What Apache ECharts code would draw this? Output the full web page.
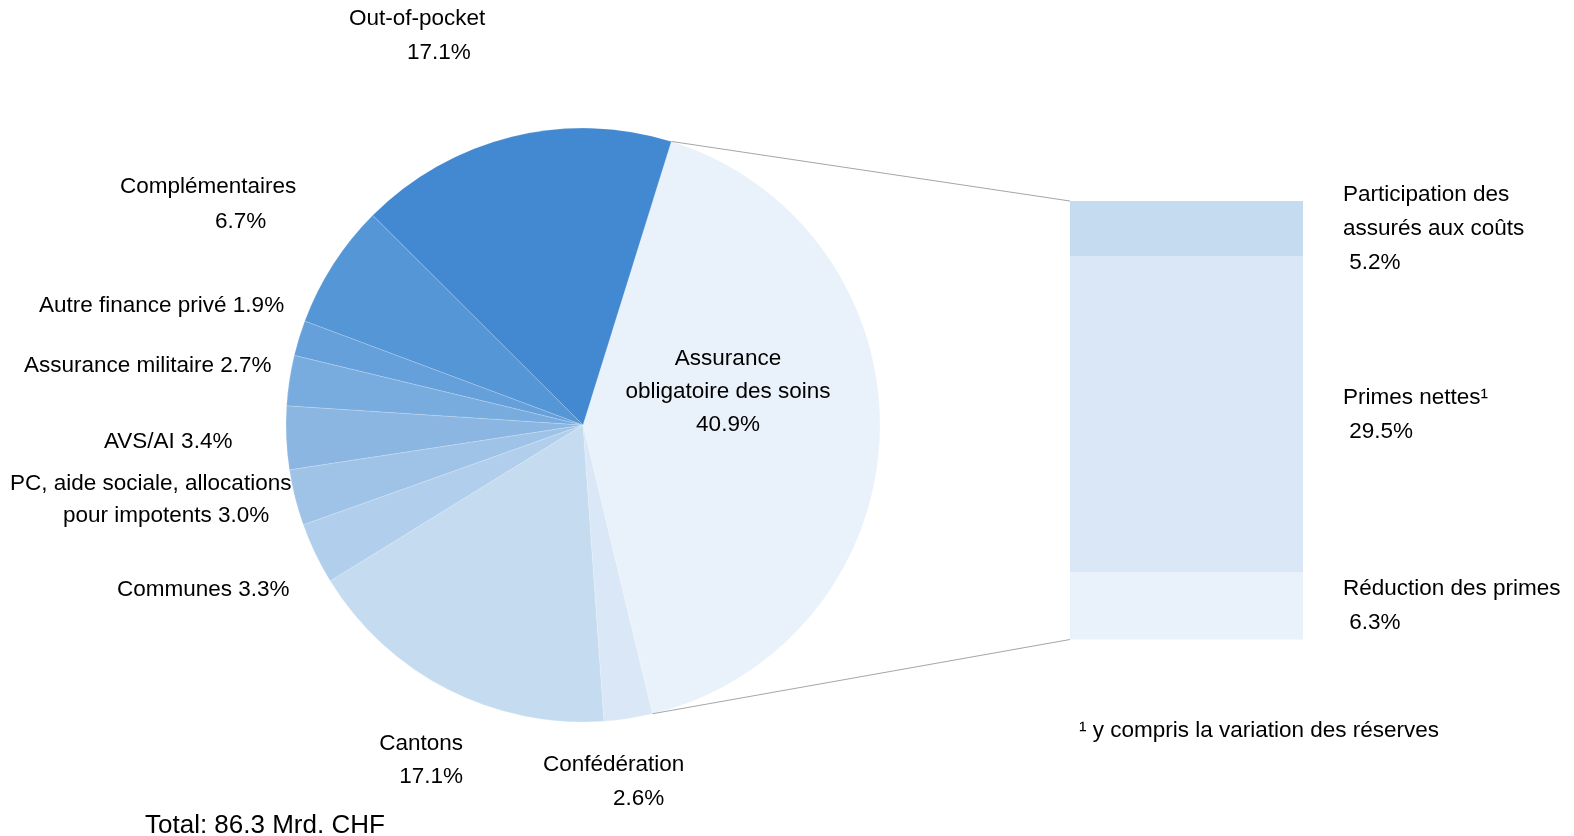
<!DOCTYPE html>
<html><head><meta charset="utf-8">
<script src="https://cdn.jsdelivr.net/npm/echarts@6/dist/echarts.min.js"></script>
<style>html,body{margin:0;padding:0;background:#fff}#c{width:1574px;height:836px}</style>
</head><body><div id="c"></div>
<script>
// ---- data ----
const pieNames = ['Assurance\nobligatoire des soins', 'Confédération', 'Cantons', 'Communes',
  'PC, aide sociale, allocations\npour impotents', 'AVS/AI', 'Assurance militaire',
  'Autre finance privé', 'Complémentaires', 'Out-of-pocket'];
const pieValues = [40.9, 2.6, 17.1, 3.3, 3.0, 3.4, 2.7, 1.9, 6.7, 17.1];
const barNames = ['Réduction des primes', 'Primes nettes¹', 'Participation des\nassurés aux coûts'];
const barValues = [6.3, 29.5, 5.2];
const totalText = 'Total: 86.3 Mrd. CHF';
const footnote = '¹ y compris la variation des réserves';

// ---- styles ----
const FONT = "'Liberation Sans', Arial, sans-serif";
const FS = 22.5;
const pieColors = ['#e9f1fa', '#dae7f6', '#c5dcf0', '#b1cfec', '#9fc3e7', '#8bb6e2', '#78acdf', '#65a0db', '#5596d6', '#4389d1'];
const barColors = ['#e9f1fa', '#dae7f6', '#c5dcf0'];
const pieLabelCfg = [
  {x: 728, y: 392, align: 'center', indent: 0, sep: '\n', lh: 33},
  {x: 543, y: 782, align: 'left', indent: 70, sep: '\n', lh: 34},
  {x: 463, y: 760, align: 'right', indent: 0, sep: '\n', lh: 33},
  {x: 117, y: 590, align: 'left', indent: 0, sep: ' ', lh: 34},
  {x: 10, y: 500, align: 'left', indent: 53, sep: ' ', lh: 32},
  {x: 104, y: 442, align: 'left', indent: 0, sep: ' ', lh: 34},
  {x: 24, y: 366, align: 'left', indent: 0, sep: ' ', lh: 34},
  {x: 39, y: 306, align: 'left', indent: 0, sep: ' ', lh: 34},
  {x: 120, y: 204.5, align: 'left', indent: 95, sep: '\n', lh: 35},
  {x: 349, y: 36, align: 'left', indent: 58, sep: '\n', lh: 34}
];

const pieData = pieNames.map((n, i) => {
  const c = pieLabelCfg[i];
  const lines = (n + c.sep + pieValues[i].toFixed(1) + '%').split('\n');
  const txt = lines.map((l, k) => (k === 0 ? '{a|' : '{b|') + l + '}').join('\n');
  return {
    name: n, value: pieValues[i],
    itemStyle: {color: pieColors[i]},
    label: {
      formatter: txt,
      rich: {
        a: {fontSize: FS, fontFamily: FONT, color: '#000', lineHeight: c.lh},
        b: {fontSize: FS, fontFamily: FONT, color: '#000', lineHeight: c.lh, padding: [0, 0, 0, c.indent]}
      }
    }
  };
});

const barSeries = barNames.map((n, i) => ({
  type: 'bar', name: n, stack: 'aos', data: [barValues[i]], barWidth: '100%',
  xAxisIndex: 0, yAxisIndex: 0,
  itemStyle: {color: barColors[i]},
  silent: true,
  label: {
    show: true, position: 'right', distance: 40, color: '#000',
    fontSize: FS, fontFamily: FONT, lineHeight: 34, align: 'left',
    formatter: p => p.seriesName + '\n ' + p.value.toFixed(1) + '%'
  }
}));

const chart = echarts.init(document.getElementById('c'), null, {renderer: 'canvas'});
chart.setOption({
  animation: false,
  backgroundColor: '#fff',
  grid: {left: 1070, top: 201, width: 233, height: 438.5},
  xAxis: {type: 'category', data: ['AOS'], show: false},
  yAxis: {type: 'value', min: 0, max: barValues.reduce((a, b) => a + b, 0), show: false},
  series: [{
    type: 'pie', center: [583, 425], radius: 297, startAngle: 72.7, clockwise: true,
    avoidLabelOverlap: false, silent: true,
    itemStyle: {borderColor: 'rgba(255,255,255,0.35)', borderWidth: 0.5},
    label: {show: true, position: 'outside'},
    labelLine: {show: false},
    labelLayout: p => {
      const c = pieLabelCfg[p.dataIndex];
      return {x: c.x, y: c.y, align: c.align, verticalAlign: 'middle'};
    },
    data: pieData
  }].concat(barSeries)
});

// connector lines computed from the library's layouts
function addConnectors() {
  const model = chart.getModel();
  const pl = model.getSeriesByIndex(0).getData().getItemLayout(0);
  const topBar = model.getSeriesByIndex(3).getData().getItemLayout(0);
  const botBar = model.getSeriesByIndex(1).getData().getItemLayout(0);
  const p1 = [pl.cx + pl.r * Math.cos(pl.startAngle), pl.cy + pl.r * Math.sin(pl.startAngle)];
  const p2 = [pl.cx + pl.r * Math.cos(pl.endAngle), pl.cy + pl.r * Math.sin(pl.endAngle)];
  const barTop = Math.min(topBar.y, topBar.y + topBar.height);
  const barBot = Math.max(botBar.y, botBar.y + botBar.height);
  const left = topBar.x;
  chart.setOption({
    graphic: [
      {type: 'line', shape: {x1: p1[0], y1: p1[1], x2: left, y2: barTop}, style: {stroke: '#a6a6a6', lineWidth: 1}, z: 100, silent: true},
      {type: 'line', shape: {x1: p2[0], y1: p2[1], x2: left, y2: barBot}, style: {stroke: '#a6a6a6', lineWidth: 1}, z: 100, silent: true},
      {type: 'text', left: 145, top: 813, style: {text: totalText, font: '26px ' + FONT, fill: '#000'}, silent: true},
      {type: 'text', left: 1079, top: 719, style: {text: footnote, font: FS + 'px ' + FONT, fill: '#000'}, silent: true}
    ]
  });
}
addConnectors();
</script>
</body></html>
